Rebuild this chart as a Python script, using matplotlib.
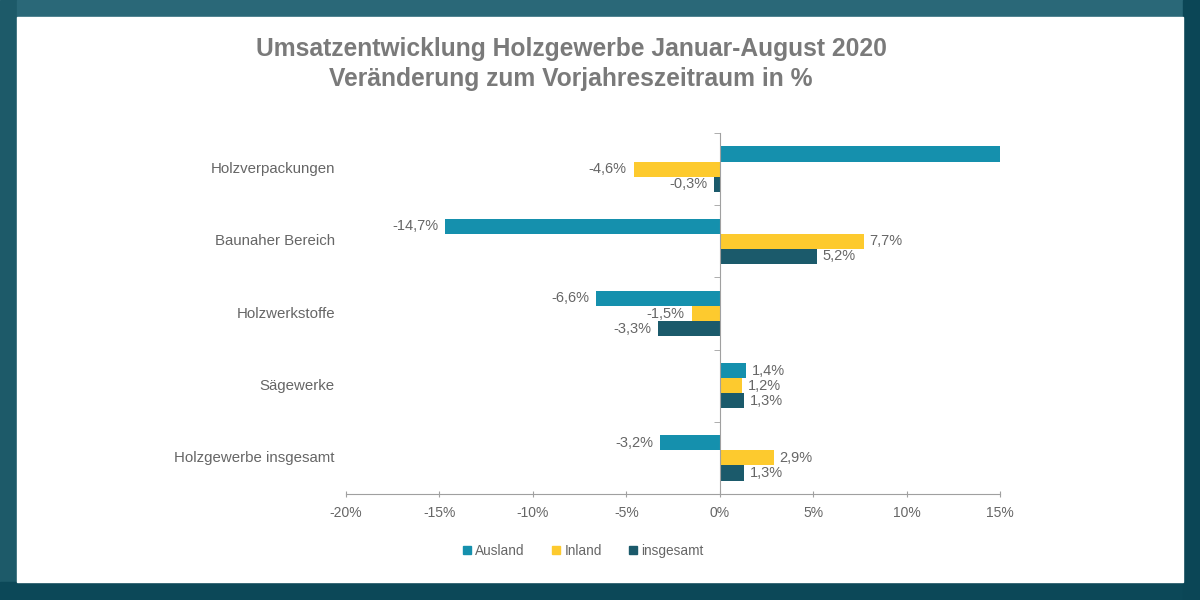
import matplotlib
matplotlib.use("Agg")
import matplotlib.pyplot as plt
from matplotlib.patches import Rectangle, Patch
import numpy as np

plt.rcParams['font.family'] = ['Liberation Sans', 'DejaVu Sans']

# Daten (Veränderung zum Vorjahreszeitraum in %)
kategorien = ["Holzverpackungen", "Baunaher Bereich", "Holzwerkstoffe",
              "Sägewerke", "Holzgewerbe insgesamt"]
ausland = [15.0, -14.7, -6.6, 1.4, -3.2]
inland = [-4.6, 7.7, -1.5, 1.2, 2.9]
insgesamt = [-0.3, 5.2, -3.3, 1.3, 1.3]
serien = ["Ausland", "Inland", "insgesamt"]
farben = ["#1590ad", "#fdca2e", "#1b5a6b"]
xticks = [-20, -15, -10, -5, 0, 5, 10, 15]

grau = "#666666"

fig = plt.figure(figsize=(12, 6), dpi=100)

# Rahmen
fig.patches.append(Rectangle((0, 0), 1, 1, transform=fig.transFigure, color="#1d5a69", zorder=-10))
fig.patches.append(Rectangle((0.014, 0.97), 0.972, 0.03, transform=fig.transFigure, color="#2a6878", zorder=-9))
fig.patches.append(Rectangle((0, 0), 1, 0.03, transform=fig.transFigure, color="#0c4858", zorder=-9))
fig.patches.append(Rectangle((0.986, 0), 0.014, 1, transform=fig.transFigure, color="#0b4656", zorder=-9))
fig.patches.append(Rectangle((17 / 1200, 18 / 600), 1 - 34 / 1200, 1 - 35 / 600,
                             transform=fig.transFigure, color="white", zorder=-8))

ax = fig.add_axes([346 / 1200, 1 - 494 / 600, 654 / 1200, 361 / 600])
ax.set_facecolor("none")

n = len(kategorien)
y = np.arange(n)
h = 0.21
werte = [ausland, inland, insgesamt]
for k, (name, vals, col) in enumerate(zip(serien, werte, farben)):
    pos = y + (k - 1) * h
    ax.barh(pos, vals, height=h, color=col, label=name, zorder=3)
    for yy, v in zip(pos, vals):
        if v >= xticks[-1]:
            continue
        txt = f"{v:.1f}%".replace(".", ",")
        if v < 0:
            ax.annotate(txt, (v, yy), xytext=(-5, 0), textcoords="offset points",
                        ha="right", va="center", fontsize=10.5, color=grau)
        else:
            ax.annotate(txt, (v, yy), xytext=(4, 0), textcoords="offset points",
                        ha="left", va="center", fontsize=10.5, color=grau)

ax.set_xlim(xticks[0], xticks[-1])
ax.set_ylim(n - 0.5, -0.5)
ax.set_xticks(xticks)
ax.set_xticklabels([f"{t}%" for t in xticks], fontsize=10, color=grau)
ax.tick_params(axis="x", direction="inout", length=5, color="#a0a0a0", pad=6)

ax.spines["top"].set_visible(False)
ax.spines["right"].set_visible(False)
ax.spines["bottom"].set_color("#a0a0a0")
ax.spines["left"].set_position(("data", 0))
ax.spines["left"].set_color("#a0a0a0")
ax.spines["left"].set_zorder(4)
ax.set_yticks(y)
ax.set_yticklabels([])
ax.tick_params(axis="y", which="major", length=0)
ax.set_yticks(np.arange(n + 1) - 0.5, minor=True)
ax.tick_params(axis="y", which="minor", direction="out", length=4, color="#a0a0a0")

for yy, name in zip(y, kategorien):
    ax.text(-0.017, yy, name, transform=ax.get_yaxis_transform(), ha="right",
            va="center", fontsize=10.8, color=grau)

fig.text(0.476, 0.893, "Umsatzentwicklung Holzgewerbe Januar-August 2020\nVeränderung zum Vorjahreszeitraum in %",
         ha="center", va="center", fontsize=17.7, fontweight="bold", color="#7a7a7a", linespacing=1.3)

handles = [Patch(color=c, label=s) for s, c in zip(serien, farben)]
fig.legend(handles=handles, loc="center", bbox_to_anchor=(0.486, 0.082), ncol=3, frameon=False,
           fontsize=9.8, handlelength=0.6, handleheight=0.6, handletextpad=0.3, columnspacing=2.0,
           labelcolor=grau)

fig.savefig("out.png", dpi=100)
